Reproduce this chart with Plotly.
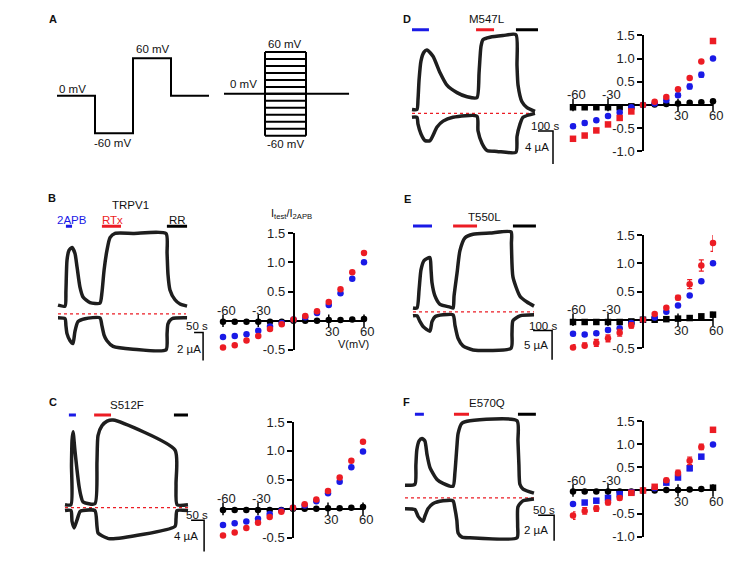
import plotly.graph_objects as go

W, H = 747, 568
OFF = 8  # page body margin offset (px) compensated in layout positions

# ---------------- Panel A: voltage protocols ----------------
protocol_t = [0, 100, 100, 200, 200, 300, 300, 400]      # ms
protocol_v = [0, 0, -60, -60, 60, 60, 0, 0]              # mV
step_v = [-60, -50, -40, -30, -20, -10, 0, 10, 20, 30, 40, 50, 60]
step_t = [0, 100, 200, 305]                              # ms

# ---------------- I-V data (normalised current) ----------------
V_mV = [-60, -50, -40, -30, -20, -10, 0, 10, 20, 30, 40, 50, 60]

B_iv_blue = [-0.28, -0.26, -0.23, -0.17, -0.10, -0.04, 0.02, 0.06, 0.13, 0.27, 0.47, 0.72, 1.00]
B_iv_red = [-0.46, -0.42, -0.34, -0.26, -0.14, -0.06, 0.02, 0.08, 0.16, 0.32, 0.54, 0.83, 1.16]
B_iv_black = [-0.02, -0.02, -0.02, -0.02, -0.02, -0.02, 0.0, 0.0, 0.0, 0.01, 0.01, 0.02, 0.03]

C_iv_blue = [-0.28, -0.25, -0.22, -0.17, -0.09, -0.03, 0.02, 0.06, 0.13, 0.27, 0.47, 0.72, 0.99]
C_iv_red = [-0.46, -0.41, -0.33, -0.24, -0.14, -0.05, 0.02, 0.08, 0.16, 0.31, 0.54, 0.83, 1.16]
C_iv_black = [-0.02, -0.02, -0.02, -0.02, -0.02, -0.02, 0.0, 0.0, 0.0, 0.01, 0.01, 0.02, 0.03]

D_iv_blue = [-0.46, -0.39, -0.33, -0.24, -0.16, -0.05, 0.0, 0.03, 0.10, 0.21, 0.40, 0.65, 1.00]
D_iv_blue_err = [0.04, 0.04, 0.03, 0.03, 0.03, 0.02, 0.0, 0.01, 0.03, 0.04, 0.05, 0.05, 0.01]
D_iv_red = [-0.73, -0.66, -0.55, -0.42, -0.28, -0.14, 0.0, 0.07, 0.17, 0.34, 0.58, 0.94, 1.38]
D_iv_red_err = [0.03, 0.02, 0.02, 0.02, 0.03, 0.03, 0.0, 0.02, 0.02, 0.02, 0.02, 0.02, 0.03]
D_iv_black = [-0.05, -0.05, -0.05, -0.05, -0.05, -0.03, 0.0, 0.01, 0.02, 0.03, 0.05, 0.06, 0.08]
D_iv_black_err = [0.02, 0.02, 0.02, 0.02, 0.02, 0.02, 0.0, 0.01, 0.01, 0.02, 0.02, 0.03, 0.03]

E_iv_blue = [-0.25, -0.26, -0.24, -0.18, -0.15, -0.06, 0.0, 0.04, 0.14, 0.25, 0.43, 0.68, 1.00]
E_iv_blue_err = [0.03, 0.03, 0.03, 0.03, 0.02, 0.02, 0.0, 0.01, 0.01, 0.01, 0.01, 0.01, 0.0]
E_iv_red = [-0.49, -0.46, -0.41, -0.33, -0.23, -0.10, 0.0, 0.10, 0.21, 0.39, 0.63, 0.96, 1.36]
E_iv_red_err = [0.05, 0.05, 0.06, 0.06, 0.06, 0.05, 0.0, 0.02, 0.02, 0.04, 0.08, 0.10, 0.15]
E_iv_black = [-0.04, -0.04, -0.04, -0.04, -0.04, -0.03, 0.0, 0.0, 0.01, 0.02, 0.03, 0.06, 0.09]
E_iv_black_err = [0.02, 0.02, 0.02, 0.02, 0.02, 0.02, 0.0, 0.01, 0.01, 0.01, 0.02, 0.03, 0.04]

F_iv_blue = [-0.29, -0.26, -0.22, -0.16, -0.08, -0.04, 0.0, 0.05, 0.17, 0.28, 0.48, 0.73, 0.99]
F_iv_blue_err = [0.03, 0.03, 0.03, 0.03, 0.04, 0.02, 0.0, 0.02, 0.03, 0.03, 0.05, 0.03, 0.0]
F_iv_red = [-0.54, -0.44, -0.39, -0.26, -0.16, -0.05, 0.0, 0.08, 0.22, 0.38, 0.64, 0.94, 1.31]
F_iv_red_err = [0.08, 0.07, 0.06, 0.05, 0.04, 0.03, 0.0, 0.02, 0.04, 0.06, 0.08, 0.06, 0.02]
F_iv_black = [-0.02, -0.02, -0.02, -0.02, -0.02, -0.02, 0.0, 0.0, 0.01, 0.01, 0.02, 0.03, 0.06]
F_iv_black_err = [0.02, 0.02, 0.02, 0.02, 0.02, 0.02, 0.0, 0.01, 0.01, 0.01, 0.02, 0.02, 0.03]

iv_ticks_B = [-0.5, 0.5, 1.0, 1.5]
iv_ticks_D = [-1.0, -0.5, 0.5, 1.0, 1.5]
x_tick_labels = [-60, -30, 30, 60]

# ---------------- Current traces (time s, current µA) ----------------
B_up_t = [0, 39, 44, 50, 61, 78, 94, 106, 122, 139, 178, 233, 244, 256, 272, 289, 317, 417, 600, 606, 611, 622, 650, 678, 717]
B_up_i = [0.62, 0.55, 1.6, 3.8, 4.5, 4.7, 4.3, 3.3, 1.9, 1.2, 0.8, 0.76, 1.5, 3.1, 4.5, 5.4, 5.7, 5.7, 5.7, 4.3, 2.8, 1.7, 1.0, 0.7, 0.55]
B_dn_t = [0, 39, 44, 50, 67, 83, 94, 111, 150, 233, 244, 256, 272, 306, 417, 600, 606, 611, 633, 717]
B_dn_i = [-0.28, -0.34, -0.83, -1.4, -1.9, -2.1, -1.25, -0.55, -0.34, -0.28, -0.83, -1.5, -1.9, -2.3, -2.5, -2.55, -1.4, -0.7, -0.34, -0.28]

C_up_t = [0, 23, 25, 27, 31, 38, 46, 54, 62, 69, 115, 123, 127, 142, 162, 185, 423, 427, 431, 473]
C_up_i = [0.38, 0.38, 5.5, 8.6, 9.75, 7.4, 4.9, 2.75, 1.4, 0.75, 0.5, 5.9, 9.25, 10.5, 11.1, 11.25, 7.4, 3.0, 0.38, 0.38]
C_dn_t = [0, 23, 27, 35, 46, 58, 69, 115, 123, 127, 142, 173, 423, 427, 431, 473]
C_dn_i = [-0.38, -0.38, -1.75, -2.6, -1.6, -0.5, -0.38, -0.38, -2.4, -3.25, -3.6, -4.0, -2.4, -1.4, -0.38, -0.38]

D_up_t = [0, 33, 40, 47, 60, 80, 100, 140, 187, 233, 300, 367, 433, 447, 460, 473, 520, 607, 693, 700, 707, 733, 767, 820]
D_up_i = [0.47, 0.47, 1.65, 4.0, 6.35, 7.4, 7.65, 6.9, 4.9, 3.4, 2.5, 2.0, 1.9, 4.9, 8.1, 8.9, 9.2, 9.4, 9.5, 5.8, 3.4, 1.4, 0.7, 0.24]
D_dn_t = [0, 33, 40, 60, 87, 120, 167, 207, 273, 433, 440, 467, 500, 567, 693, 700, 720, 740, 820]
D_dn_i = [-0.47, -0.47, -1.3, -2.5, -3.3, -3.3, -1.65, -0.94, -0.47, -0.35, -2.1, -3.65, -4.5, -4.6, -4.7, -2.8, -1.3, -0.47, 0.0]

E_up_t = [0, 21, 32, 42, 58, 89, 95, 100, 116, 142, 195, 211, 216, 232, 247, 274, 316, 405, 516, 518, 526, 563, 600, 637]
E_up_i = [0.67, 0.67, 3.8, 7.2, 8.8, 9.3, 7.2, 5.0, 2.7, 1.3, 0.83, 0.67, 2.7, 6.7, 10.5, 12.7, 13.3, 13.5, 13.7, 11.7, 6.0, 2.7, 1.7, 1.0]
E_dn_t = [0, 21, 37, 53, 89, 100, 116, 158, 211, 221, 237, 263, 316, 516, 521, 526, 563, 637]
E_dn_i = [-0.67, -0.67, -1.67, -2.5, -3.3, -1.67, -0.83, -0.5, -0.5, -2.3, -4.5, -5.8, -6.5, -6.2, -3.7, -1.5, -0.67, -0.5]

F_up_t = [0, 31, 34, 37, 44, 53, 62, 69, 78, 100, 119, 150, 156, 162, 166, 178, 203, 350, 353, 356, 359, 369, 403]
F_up_i = [1.0, 1.08, 2.6, 3.8, 4.5, 4.7, 4.5, 3.4, 2.4, 1.46, 1.15, 0.92, 2.0, 4.0, 5.1, 5.9, 6.1, 6.1, 4.5, 2.6, 1.08, 0.7, 0.38]
F_dn_t = [0, 31, 41, 56, 62, 72, 87, 119, 150, 156, 162, 166, 178, 203, 350, 352, 353, 369, 403]
F_dn_i = [-0.85, -0.92, -1.46, -1.85, -1.46, -0.85, -0.46, -0.23, -0.23, -0.85, -1.77, -2.77, -3.1, -3.15, -3.15, -2.2, -0.7, -0.23, -0.08]

# drug application bars (start s, end s): 2APB, RTx, RR
B_bars = [(44, 78), (244, 350), (605, 717)]
C_bars = [(15, 42), (112, 177), (419, 473)]
D_bars = [(0, 113), (427, 547), (693, 840)]
E_bars = [(0, 100), (211, 337), (526, 647)]
F_bars = [(31, 59), (153, 200), (353, 409)]

# ---------------- figure building ----------------
BLUE = "#1a1ae6"
RED = "#ec1c24"
TRACE = "#1e1e1e"
bar_colors = [BLUE, RED, "#000000"]
FONT = "Liberation Sans, Arial, sans-serif"

fig = go.Figure()
axes_layout = {}
counter = [0]


def clamp(v):
    return min(1.0, max(0.0, v))


def new_axes(bx0, bx1, by0, by1, xr, yr):
    counter[0] += 1
    n = counter[0]
    s = "" if n == 1 else str(n)
    axes_layout["xaxis" + s] = dict(domain=[clamp((bx0 - OFF) / W), clamp((bx1 - OFF) / W)], range=xr,
                                    visible=False, anchor="y" + s, fixedrange=True)
    axes_layout["yaxis" + s] = dict(domain=[clamp(1 - (by1 - OFF) / H), clamp(1 - (by0 - OFF) / H)],
                                    range=yr, visible=False, anchor="x" + s, fixedrange=True)
    return "x" + s, "y" + s, s


def scaled_axes(ox, oy, pxx, pxy, box):
    bx0, bx1, by0, by1 = box
    xr = [(bx0 - ox) / pxx, (bx1 - ox) / pxx]
    yr = [(oy - by1) / pxy, (oy - by0) / pxy]
    return new_axes(bx0, bx1, by0, by1, xr, yr)


def line(xa, ya, x, y, color="black", width=2, dash=None, shape="linear"):
    fig.add_trace(go.Scatter(x=x, y=y, xaxis=xa, yaxis=ya, mode="lines",
                             line=dict(color=color, width=width, dash=dash, shape=shape, smoothing=0.6),
                             showlegend=False, hoverinfo="skip", cliponaxis=False))


annotations = []


def label(px, py, text, size=11.5, color="#111", bold=False, xanchor="center"):
    if bold:
        text = "<b>" + text + "</b>"
    annotations.append(dict(x=(px - OFF) / W, y=1 - (py - OFF) / H, xref="paper", yref="paper",
                            text=text, showarrow=False, xanchor=xanchor, yanchor="middle",
                            font=dict(size=size, color=color, family=FONT)))


# ---- Panel A ----
xa, ya, _ = scaled_axes(57, 91, 0.38, 0.642, (50, 215, 30, 150))
line(xa, ya, protocol_t, protocol_v, width=2)
xa, ya, _ = scaled_axes(224, 89, 0.41, 0.717, (215, 360, 30, 150))
line(xa, ya, [step_t[0], step_t[-1]], [0, 0], width=2)
hx, hy = [], []
for v in step_v:
    hx += [step_t[1], step_t[2], None]
    hy += [v, v, None]
hx += [step_t[1], step_t[1], None, step_t[2], step_t[2]]
hy += [step_v[0], step_v[-1], None, step_v[0], step_v[-1]]
line(xa, ya, hx, hy, width=2)

label(53, 12, "A", 11, bold=True)
label(72, 84, "0 mV")
label(112, 139, "-60 mV")
label(153, 43, "60 mV")
label(285, 38, "60 mV")
label(243, 79, "0 mV")
label(285, 140, "-60 mV")


# ---- trace panels ----
def trace_panel(origin, pxx, pxy, box, up_t, up_i, dn_t, dn_i, bars, bar_level, end_t,
                sb_t, sb_i, sb_dt, sb_di):
    xa, ya, _ = scaled_axes(origin[0], origin[1], pxx, pxy, box)
    line(xa, ya, [0, end_t], [0, 0], color=RED, width=1.2, dash="dot")
    line(xa, ya, up_t, up_i, color=TRACE, width=3.5, shape="spline")
    line(xa, ya, dn_t, dn_i, color=TRACE, width=3.5, shape="spline")
    for (t0, t1), c in zip(bars, bar_colors):
        line(xa, ya, [t0, t1], [bar_level, bar_level], color=c, width=3)
    line(xa, ya, [sb_t, sb_t + sb_dt, sb_t + sb_dt], [sb_i, sb_i, sb_i - sb_di], width=1.5)


# B
trace_panel((58, 315), 0.18, 14.5, (50, 215, 190, 370), B_up_t, B_up_i, B_dn_t, B_dn_i,
            B_bars, 6.2, 711, 756, -1.31, 50, 2)
label(52, 196, "B", 11, bold=True)
label(130, 203, "TRPV1")
label(72, 219, "2APB", color=BLUE)
label(112, 219, "RTx", color=RED)
label(177, 219, "RR")
label(197, 327, "50 s")
label(189, 351, "2 µA")

# C
trace_panel((65, 514), 0.26, 8.0, (55, 215, 400, 565), C_up_t, C_up_i, C_dn_t, C_dn_i,
            C_bars, 11.9, 473, 485, -1.63, 50, 4)
label(53, 406, "C", 11, bold=True)
label(127, 409, "S512F")
label(197, 522, "50 s")
label(186, 543, "4 µA")

# D
trace_panel((412, 109), 0.15, 8.5, (400, 560, 10, 170), D_up_t, D_up_i, D_dn_t, D_dn_i,
            D_bars, 10.1, 827, 840, -2.12, 100, 4)
label(407, 12, "D", 11, bold=True)
label(487, 12, "M547L")
label(545, 122, "100 s")
label(537, 144, "4 µA")

# E
trace_panel((413, 313), 0.19, 6.0, (400, 560, 195, 370), E_up_t, E_up_i, E_dn_t, E_dn_i,
            E_bars, 14.7, 637, 632, -3.17, 100, 5)
label(407, 197, "E", 11, bold=True)
label(484, 215, "T550L")
label(543, 327, "100 s")
label(536, 347, "5 µA")

# F
trace_panel((405, 504), 0.32, 13.0, (395, 565, 400, 565), F_up_t, F_up_i, F_dn_t, F_dn_i,
            F_bars, 6.6, 403, 416, -1.38, 50, 2)
label(406, 405, "F", 11, bold=True)
label(487, 407, "E570Q")
label(544, 516, "50 s")
label(536, 537, "2 µA")


# ---- I-V panels ----
def iv_panel(xm60, x60, ytop, ybot, vtop, vbot, ticks, series):
    xa, ya, s = new_axes(xm60, x60, ytop, ybot, [-60, 60], [vbot, vtop])
    axes_layout["yaxis" + s].update(
        visible=True, anchor="free", position=((xm60 + x60) / 2 - OFF) / W,
        showline=True, linecolor="black", linewidth=1.5,
        ticks="outside", ticklen=5, tickwidth=1.5, tickcolor="black",
        tickvals=ticks, ticktext=[f"{t:.1f}" for t in ticks],
        tickfont=dict(size=13, color="#222", family=FONT),
        showgrid=False, zeroline=True, zerolinecolor="black", zerolinewidth=2)
    fig.add_trace(go.Scatter(x=x_tick_labels, y=[0] * len(x_tick_labels), xaxis=xa, yaxis=ya,
                             mode="markers", marker=dict(symbol="line-ns", size=9,
                                                         line=dict(color="black", width=1.5)),
                             showlegend=False, hoverinfo="skip", cliponaxis=False))
    for vals, err, color, sym in series:
        fig.add_trace(go.Scatter(
            x=V_mV, y=vals, xaxis=xa, yaxis=ya, mode="markers",
            marker=dict(color=color, size=6.5, symbol=sym, line=dict(width=0)),
            error_y=(dict(type="data", array=err, color=color, thickness=1.3, width=2.5)
                     if err else None),
            showlegend=False, hoverinfo="skip", cliponaxis=False))
    for v in x_tick_labels:
        annotations.append(dict(x=v, y=0, xref=xa, yref=ya, text=str(v), showarrow=False,
                                xanchor="center", yanchor="middle",
                                xshift=3, yshift=(10 if v < 0 else -11),
                                font=dict(size=13, color="#222", family=FONT)))


circ = "circle"
sq = "square"
iv_panel(223, 364, 232, 352, 1.5, -0.5, iv_ticks_B, [
    (B_iv_black, None, "black", circ), (B_iv_blue, None, BLUE, circ), (B_iv_red, None, RED, circ)])
label(291, 212, "I<sub>test</sub>/I<sub>2APB</sub>", 11)
label(353, 346, "V(mV)", 11)

iv_panel(223, 363, 426, 545, 1.5, -0.5, iv_ticks_B, [
    (C_iv_black, None, "black", circ), (C_iv_blue, None, BLUE, circ), (C_iv_red, None, RED, circ)])

iv_panel(573, 713, 29, 148, 1.5, -1.0, iv_ticks_D, [
    (D_iv_black, D_iv_black_err, "black", [sq] * 6 + [circ] * 7),
    (D_iv_blue, D_iv_blue_err, BLUE, circ),
    (D_iv_red, D_iv_red_err, RED, [sq] * 6 + [circ] * 6 + [sq])])

iv_panel(573, 713, 234, 350, 1.5, -0.5, iv_ticks_B, [
    (E_iv_black, E_iv_black_err, "black", sq),
    (E_iv_blue, E_iv_blue_err, BLUE, circ),
    (E_iv_red, E_iv_red_err, RED, circ)])

iv_panel(573, 713, 425, 544, 1.5, -1.0, iv_ticks_D, [
    (F_iv_black, F_iv_black_err, "black", [circ] * 12 + [sq]),
    (F_iv_blue, F_iv_blue_err, BLUE, [circ] + [sq] * 5 + [circ] + [circ] + [sq] * 4 + [circ]),
    (F_iv_red, F_iv_red_err, RED, [circ] * 5 + [sq] * 2 + [sq] + [circ] * 4 + [sq])])

fig.update_layout(
    width=W, height=H, margin=dict(l=0, r=0, t=0, b=0),
    paper_bgcolor="white", plot_bgcolor="rgba(0,0,0,0)",
    font=dict(family=FONT, size=11, color="#111"),
    showlegend=False, annotations=annotations, **axes_layout)

fig.write_html("out.html")
